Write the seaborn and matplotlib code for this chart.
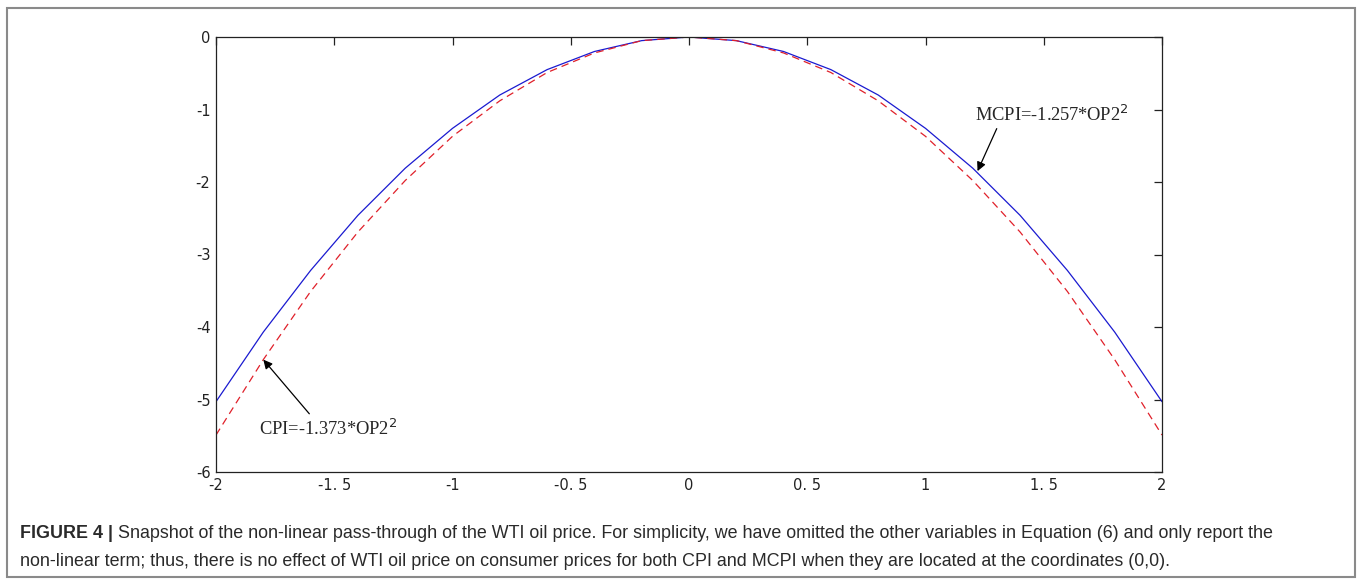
import matplotlib.pyplot as plt
import matplotlib.patches as mpatches
import seaborn as sns
import pandas as pd

# values
opPrice = [-2.0, -1.8, -1.6, -1.4, -1.2, -1.0, -0.8, -0.6, -0.4, -0.2, 0.0,
           0.2, 0.4, 0.6, 0.8, 1.0, 1.2, 1.4, 1.6, 1.8, 2.0]
mcpiVals = [-5.03, -4.07, -3.22, -2.46, -1.81, -1.26, -0.80, -0.45, -0.20, -0.05, 0.0,
            -0.05, -0.20, -0.45, -0.80, -1.26, -1.81, -2.46, -3.22, -4.07, -5.03]
cpiVals = [-5.49, -4.45, -3.51, -2.69, -1.98, -1.37, -0.88, -0.49, -0.22, -0.05, 0.0,
           -0.05, -0.22, -0.49, -0.88, -1.37, -1.98, -2.69, -3.51, -4.45, -5.49]
xTicks = [-2, -1.5, -1, -0.5, 0, 0.5, 1, 1.5, 2]
xTickLabels = ['-2', '-1. 5', '-1', '-0. 5', '0', '0. 5', '1', '1. 5', '2']
yTicks = [0, -1, -2, -3, -4, -5, -6]
yTickLabels = ['0', '-1', '-2', '-3', '-4', '-5', '-6']

df = pd.DataFrame({'x': opPrice, 'MCPI': mcpiVals, 'CPI': cpiVals})

sns.set_style('white')
fig = plt.figure(figsize=(13.58, 5.79), dpi=100)
ax = fig.add_axes([216 / 1358, 1 - 472 / 579, 946 / 1358, 435 / 579])

sns.lineplot(data=df, x='x', y='MCPI', ax=ax, color='#1a1ad0', linewidth=0.9)
sns.lineplot(data=df, x='x', y='CPI', ax=ax, color='#e0202a', linewidth=0.9,
             dashes=False, linestyle=(0, (6, 4)))

ax.set_xlim(-2, 2)
ax.set_ylim(-6, 0)
ax.set_xticks(xTicks)
ax.set_xticklabels(xTickLabels)
ax.set_yticks(yTicks)
ax.set_yticklabels(yTickLabels)
ax.set_xlabel('')
ax.set_ylabel('')
ax.tick_params(direction='in', length=6, width=0.9, colors='#222222',
               labelsize=10.5, top=True, right=True, pad=4)
ax.tick_params(axis='x', labeltop=False)
ax.tick_params(axis='y', labelright=False)
for sp in ax.spines.values():
    sp.set_color('#222222')
    sp.set_linewidth(0.9)

# equation labels with arrows
ax.annotate('MCPI=-1.257*OP2$^2$', xy=(1.22, -1.85), xytext=(1.21, -1.08),
            fontsize=13.3, family='Liberation Serif', va='center', ha='left',
            arrowprops=dict(arrowstyle='-|>', color='black', lw=0.9,
                            shrinkA=0, shrinkB=0, relpos=(0.15, 0.0)))
ax.annotate('CPI=-1.373*OP2$^2$', xy=(-1.80, -4.45), xytext=(-1.82, -5.41),
            fontsize=13.3, family='Liberation Serif', va='center', ha='left',
            arrowprops=dict(arrowstyle='-|>', color='black', lw=0.9,
                            shrinkA=2, shrinkB=0, relpos=(0.4, 1.0)))

# caption
capSize = 12.9
t1 = fig.text(20 / 1358, 1 - 534 / 579, 'FIGURE 4 |', fontsize=capSize,
              fontweight='bold', family='Liberation Sans', va='center', color='#2a2a2a')
ax.annotate(' Snapshot of the non-linear pass-through of the WTI oil price. For simplicity, '
            'we have omitted the other variables in Equation (6) and only report the',
            xy=(1, 0.5), xycoords=t1, va='center', ha='left', fontsize=capSize,
            family='Liberation Sans', color='#2a2a2a', annotation_clip=False)
fig.text(20 / 1358, 1 - 561 / 579,
         'non-linear term; thus, there is no effect of WTI oil price on consumer prices '
         'for both CPI and MCPI when they are located at the coordinates (0,0).',
         fontsize=capSize, family='Liberation Sans', va='center', color='#2a2a2a')

# outer frame
fig.patches.append(mpatches.Rectangle((7 / 1358, 2 / 579), 1348 / 1358, 569 / 579,
                                      transform=fig.transFigure, fill=False,
                                      edgecolor='#8a8a8a', linewidth=1.5))

fig.savefig('out.png', dpi=100)
